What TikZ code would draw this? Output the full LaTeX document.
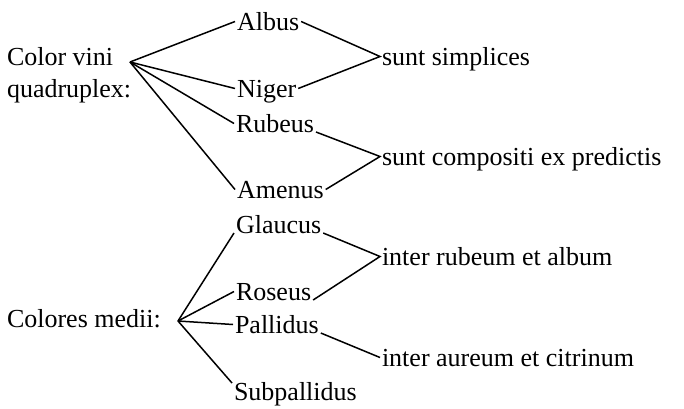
\documentclass[tikz,border=0pt]{standalone}
\usepackage{fontspec}
\setmainfont{Liberation Serif}
\begin{document}
\begin{tikzpicture}[x=1pt,y=-1pt,
  word/.style={anchor=base west,inner sep=0pt,outer xsep=2pt,outer ysep=0pt,
    text height=17pt,text depth=0pt,font=\fontsize{26}{32}\selectfont},
  link/.style={line width=1.5pt,line join=miter}]
\fill[white] (0,0) rectangle (684,408);
\useasboundingbox (0,0) rectangle (684,408);
% top group
\node[word] (cv1) at (5,65) {Color vini};
\node[word] (cv2) at (5,97) {quadruplex:};
\coordinate (c1) at (130,62);
\node[word] (albus) at (235,30) {Albus};
\node[word] (niger) at (235,97) {Niger};
\node[word] (rubeus) at (234,132) {Rubeus};
\node[word] (amenus) at (235,198) {Amenus};
\node[word] (simp) at (380,65) {sunt simplices};
\node[word] (comp) at (380,165) {sunt compositi ex predictis};
\draw[link] (c1) -- (albus.west);
\draw[link] (c1) -- (niger.west);
\draw[link] (c1) -- (rubeus.west);
\draw[link] (c1) -- (amenus.west);
\draw[link] (albus.east) -- (simp.west) -- (niger.east);
\draw[link] (rubeus.south east) -- (comp.west) -- (amenus.east);
% bottom group
\node[word] (cm) at (5,327) {Colores medii:};
\coordinate (c2) at (178,321);
\node[word] (glaucus) at (234,233) {Glaucus};
\node[word] (roseus) at (234,300) {Roseus};
\node[word] (pallidus) at (233,333) {Pallidus};
\node[word] (subpallidus) at (232,400) {Subpallidus};
\node[word] (rub) at (380,265) {inter rubeum et album};
\node[word] (aur) at (380,366) {inter aureum et citrinum};
\draw[link] (c2) -- (glaucus.south west);
\draw[link] (c2) -- (roseus.west);
\draw[link] (c2) -- (pallidus.west);
\draw[link] (c2) -- (subpallidus.north west);
\draw[link] (glaucus.south east) -- (rub.west) -- (roseus.south east);
\draw[link] (pallidus.south east) -- (aur.west);
\end{tikzpicture}
\end{document}
